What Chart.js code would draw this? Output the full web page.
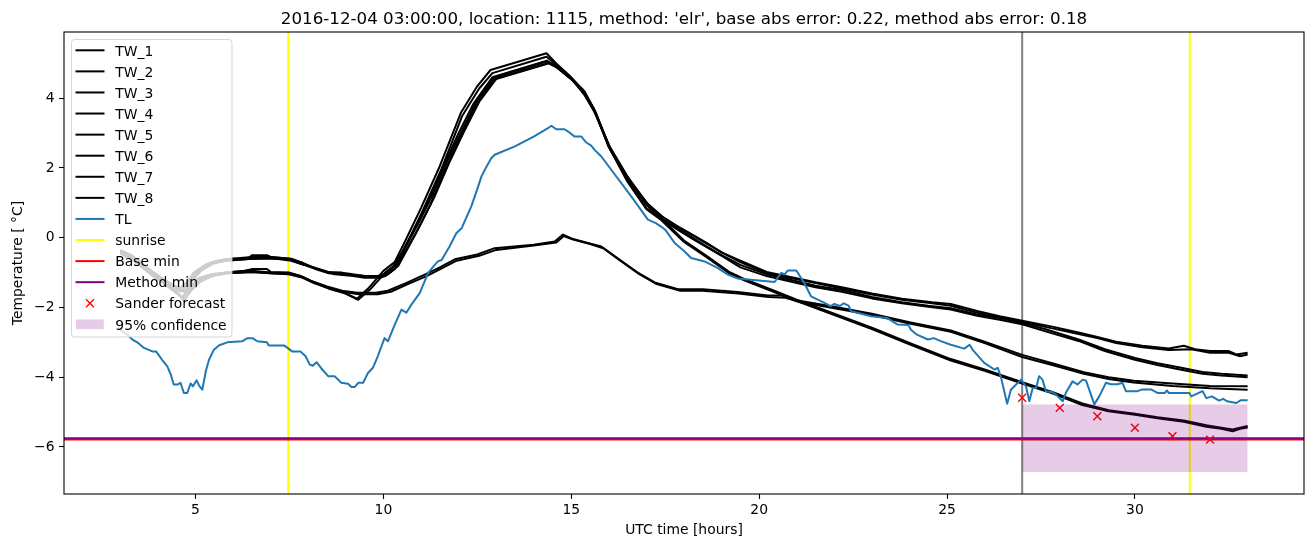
<!DOCTYPE html>
<html><head><meta charset="utf-8">
<script src="https://cdn.jsdelivr.net/npm/chart.js@4.4.1/dist/chart.umd.min.js"></script>
<style>html,body{margin:0;padding:0;background:#fff;overflow:hidden}</style>
</head><body>
<canvas id="c" width="1313" height="547" style="width:1313px;height:547px;display:block"></canvas>
<script>
// ---------- data ----------
const titleText = "2016-12-04 03:00:00, location: 1115, method: 'elr', base abs error: 0.22, method abs error: 0.18";
const xLabel = "UTC time [hours]";
const yLabel = "Temperature [ \u00B0C]";
const xTicks = [5, 10, 15, 20, 25, 30];
const yTicks = [-6, -4, -2, 0, 2, 4];
const xMin = 1.5, xMax = 34.5, yMin = -7.35, yMax = 5.9;

const tw1 = [[3.0,-0.35],[3.3,-0.5],[3.7,-0.85],[4.1,-1.15],[4.4,-1.35],[4.6,-1.45],[4.75,-1.3],[4.95,-1.0],[5.3,-0.75],[5.6,-0.65],[5.9,-0.6],[6.4,-0.6],[6.5,-0.5],[6.9,-0.5],[7.0,-0.55],[7.55,-0.6],[7.8,-0.7],[8.0,-0.8],[8.3,-0.9],[8.6,-1.0],[8.9,-1.0],[9.0,-1.05],[9.5,-1.1],[9.85,-1.1],[10.0,-1.05],[10.25,-0.85],[10.5,-0.4],[10.8,0.2],[11.2,1.05],[11.6,2.05],[12.0,3.0],[12.4,3.85],[12.9,4.6],[14.35,5.08],[14.55,4.95],[15.0,4.55],[15.3,4.2],[15.6,3.65],[16.0,2.65],[16.5,1.75],[17.0,1.0],[17.4,0.62],[17.8,0.35],[18.2,0.1],[18.6,-0.15],[19.0,-0.42],[19.5,-0.66],[20.2,-0.98],[20.8,-1.12],[21.5,-1.28],[22.2,-1.42],[23.0,-1.6],[23.8,-1.75],[24.6,-1.85],[25.1,-1.9],[25.8,-2.1],[26.4,-2.25],[27.0,-2.38],[27.8,-2.55],[28.5,-2.72],[29.0,-2.85],[29.5,-2.98],[30.2,-3.1],[30.9,-3.18],[31.3,-3.1],[31.6,-3.2],[32.0,-3.25],[32.5,-3.25],[32.7,-3.35],[33.0,-3.3]];
const tw2 = [[3.0,-0.4],[3.3,-0.55],[3.7,-0.9],[4.1,-1.2],[4.4,-1.4],[4.6,-1.55],[4.8,-1.35],[5.0,-1.05],[5.3,-0.8],[5.6,-0.7],[5.9,-0.65],[6.5,-0.6],[7.0,-0.6],[7.5,-0.62],[7.8,-0.75],[8.1,-0.85],[8.4,-0.95],[8.7,-1.05],[9.2,-1.1],[9.5,-1.15],[9.9,-1.15],[10.05,-1.1],[10.3,-0.9],[10.55,-0.45],[10.85,0.1],[11.25,0.95],[11.65,1.95],[12.05,2.9],[12.45,3.8],[12.95,4.55],[14.4,5.01],[14.6,4.9],[15.05,4.5],[15.35,4.1],[15.65,3.55],[16.05,2.55],[16.55,1.65],[17.05,0.95],[17.45,0.58],[17.85,0.3],[18.25,0.05],[18.65,-0.2],[19.05,-0.45],[19.5,-0.7],[20.2,-1.02],[20.8,-1.15],[21.5,-1.3],[22.2,-1.46],[23.0,-1.63],[23.8,-1.78],[24.6,-1.88],[25.1,-1.95],[25.8,-2.15],[26.4,-2.28],[27.0,-2.42],[27.8,-2.6],[28.5,-2.76],[29.0,-2.88],[29.5,-3.02],[30.2,-3.14],[30.9,-3.22],[31.5,-3.2],[32.0,-3.3],[32.5,-3.3],[32.8,-3.4],[33.0,-3.35]];
const tw3 = [[3.0,-0.38],[3.35,-0.55],[3.75,-0.9],[4.15,-1.2],[4.45,-1.4],[4.65,-1.5],[4.85,-1.2],[5.1,-0.9],[5.4,-0.72],[5.8,-0.62],[6.5,-0.55],[7.0,-0.55],[7.5,-0.6],[7.85,-0.72],[8.2,-0.88],[8.5,-0.98],[9.0,-1.02],[9.5,-1.1],[9.9,-1.1],[10.1,-1.0],[10.35,-0.75],[10.6,-0.25],[10.9,0.35],[11.3,1.2],[11.7,2.2],[12.1,3.1],[12.5,3.95],[12.95,4.6],[14.35,5.05],[14.6,4.92],[15.0,4.55],[15.3,4.25],[15.6,3.7],[16.0,2.6],[16.5,1.7],[17.0,0.95],[17.4,0.55],[17.8,0.28],[18.2,0.02],[18.6,-0.25],[19.0,-0.5],[19.5,-0.78],[20.2,-1.05],[20.8,-1.2],[21.5,-1.38],[22.2,-1.5],[23.0,-1.7],[23.8,-1.85],[24.5,-1.95],[25.1,-2.02],[25.8,-2.2],[26.4,-2.3],[27.0,-2.45],[27.6,-2.62],[28.5,-2.92],[29.2,-3.2],[30.0,-3.45],[30.6,-3.6],[31.2,-3.72],[31.8,-3.85],[32.3,-3.9],[33.0,-3.95]];
const tw4 = [[3.0,-0.42],[3.4,-0.62],[3.8,-0.95],[4.2,-1.25],[4.5,-1.45],[4.7,-1.55],[4.9,-1.25],[5.15,-0.95],[5.45,-0.75],[5.85,-0.65],[6.5,-0.6],[7.0,-0.58],[7.5,-0.65],[7.9,-0.78],[8.25,-0.92],[8.55,-1.02],[9.0,-1.05],[9.5,-1.12],[9.95,-1.12],[10.15,-1.02],[10.4,-0.8],[10.65,-0.3],[10.95,0.3],[11.35,1.15],[11.75,2.15],[12.15,3.05],[12.55,3.9],[13.0,4.55],[14.4,5.0],[14.62,4.88],[15.05,4.5],[15.35,4.2],[15.65,3.6],[16.05,2.5],[16.55,1.6],[17.05,0.9],[17.45,0.5],[17.85,0.22],[18.25,-0.05],[18.65,-0.3],[19.05,-0.55],[19.5,-0.85],[20.2,-1.1],[20.8,-1.25],[21.5,-1.42],[22.2,-1.55],[23.0,-1.74],[23.8,-1.88],[24.5,-1.98],[25.1,-2.06],[25.8,-2.24],[26.4,-2.35],[27.0,-2.48],[27.6,-2.68],[28.5,-2.96],[29.2,-3.25],[30.0,-3.5],[30.6,-3.65],[31.2,-3.78],[31.8,-3.9],[32.3,-3.95],[33.0,-4.0]];
const tw5 = [[3.0,-0.4],[3.4,-0.65],[3.8,-1.0],[4.2,-1.3],[4.45,-1.5],[4.65,-1.75],[4.85,-1.45],[5.1,-1.2],[5.4,-1.08],[5.8,-1.0],[6.3,-0.95],[6.5,-0.9],[6.9,-0.9],[7.0,-0.98],[7.5,-1.0],[7.8,-1.1],[8.1,-1.25],[8.5,-1.4],[8.9,-1.52],[9.3,-1.58],[9.8,-1.58],[10.12,-1.52],[10.6,-1.3],[11.1,-1.06],[11.5,-0.85],[11.9,-0.62],[12.5,-0.48],[12.96,-0.3],[14.0,-0.2],[14.56,-0.11],[14.78,0.09],[15.0,-0.02],[15.44,-0.15],[15.8,-0.25],[16.24,-0.6],[16.77,-1.0],[17.22,-1.28],[17.84,-1.48],[18.5,-1.48],[19.43,-1.56],[20.23,-1.66],[20.6,-1.66],[21.03,-1.8],[22.0,-1.98],[23.0,-2.18],[24.0,-2.42],[25.1,-2.66],[26.0,-2.98],[27.0,-3.36],[27.8,-3.6],[28.64,-3.86],[29.3,-4.0],[29.97,-4.1],[31.0,-4.18],[32.0,-4.25],[33.0,-4.26]];
const tw6 = [[3.0,-0.45],[3.4,-0.7],[3.8,-1.05],[4.2,-1.35],[4.5,-1.55],[4.7,-1.8],[4.9,-1.5],[5.15,-1.25],[5.45,-1.1],[5.85,-1.02],[6.5,-0.98],[7.0,-1.02],[7.5,-1.05],[7.85,-1.15],[8.15,-1.3],[8.55,-1.45],[8.95,-1.56],[9.35,-1.62],[9.85,-1.62],[10.2,-1.55],[10.65,-1.33],[11.15,-1.1],[11.55,-0.88],[11.95,-0.66],[12.55,-0.52],[13.0,-0.35],[14.0,-0.22],[14.6,-0.14],[14.8,0.05],[15.05,-0.05],[15.5,-0.18],[15.85,-0.3],[16.3,-0.65],[16.8,-1.04],[17.25,-1.32],[17.9,-1.52],[18.5,-1.52],[19.45,-1.6],[20.25,-1.7],[20.7,-1.72],[21.1,-1.85],[22.0,-2.02],[23.0,-2.22],[24.0,-2.46],[25.1,-2.7],[26.0,-3.02],[27.0,-3.42],[27.8,-3.65],[28.64,-3.9],[29.3,-4.05],[29.97,-4.15],[31.0,-4.25],[32.0,-4.32],[33.0,-4.36]];
const tw7 = [[3.0,-0.4],[3.35,-0.62],[3.75,-0.98],[4.15,-1.3],[4.45,-1.55],[4.65,-1.7],[4.85,-1.4],[5.1,-1.15],[5.4,-1.05],[5.8,-1.0],[6.5,-0.95],[7.0,-1.0],[7.5,-1.02],[7.85,-1.12],[8.15,-1.28],[8.55,-1.45],[8.95,-1.58],[9.3,-1.75],[9.6,-1.45],[10.0,-0.95],[10.3,-0.7],[10.6,-0.05],[11.0,0.85],[11.5,2.05],[12.07,3.6],[12.5,4.35],[12.85,4.81],[14.34,5.29],[14.6,5.0],[15.0,4.6],[15.3,4.25],[15.6,3.7],[16.0,2.62],[16.5,1.62],[17.0,0.85],[17.4,0.55],[18.0,-0.08],[18.6,-0.52],[19.2,-0.98],[19.6,-1.18],[20.4,-1.52],[21.0,-1.78],[22.0,-2.18],[23.0,-2.58],[24.0,-3.02],[25.1,-3.48],[26.0,-3.78],[27.0,-4.14],[27.8,-4.42],[28.6,-4.75],[29.3,-4.95],[30.0,-5.05],[30.6,-5.15],[31.3,-5.24],[31.9,-5.38],[32.3,-5.45],[32.6,-5.5],[32.8,-5.45],[33.0,-5.4]];
const tw8 = [[3.0,-0.44],[3.4,-0.68],[3.8,-1.02],[4.2,-1.35],[4.5,-1.6],[4.7,-1.78],[4.9,-1.45],[5.15,-1.2],[5.45,-1.08],[5.85,-1.02],[6.5,-0.98],[7.0,-1.02],[7.5,-1.05],[7.9,-1.15],[8.2,-1.3],[8.6,-1.48],[9.0,-1.6],[9.33,-1.78],[9.65,-1.48],[10.05,-1.0],[10.35,-0.75],[10.65,-0.12],[11.05,0.78],[11.55,1.98],[12.1,3.5],[12.55,4.28],[12.9,4.72],[14.34,5.19],[14.62,4.95],[15.0,4.58],[15.3,4.22],[15.6,3.68],[16.0,2.6],[16.5,1.6],[17.0,0.82],[17.4,0.5],[18.0,-0.12],[18.6,-0.56],[19.2,-1.02],[19.6,-1.22],[20.4,-1.56],[21.0,-1.82],[22.0,-2.22],[23.0,-2.62],[24.0,-3.06],[25.1,-3.52],[26.0,-3.82],[27.0,-4.18],[27.8,-4.46],[28.6,-4.8],[29.3,-4.98],[30.0,-5.08],[30.6,-5.18],[31.3,-5.28],[31.9,-5.42],[32.3,-5.48],[32.6,-5.55],[32.8,-5.48],[33.0,-5.44]];
const tl = [[3.0,-2.64],[3.15,-2.75],[3.32,-2.92],[3.45,-3.0],[3.63,-3.16],[3.85,-3.26],[3.95,-3.26],[4.11,-3.5],[4.25,-3.69],[4.35,-3.95],[4.42,-4.21],[4.52,-4.21],[4.6,-4.16],[4.69,-4.45],[4.78,-4.45],[4.87,-4.18],[4.93,-4.26],[5.03,-4.09],[5.1,-4.25],[5.18,-4.36],[5.28,-3.8],[5.36,-3.5],[5.49,-3.21],[5.62,-3.09],[5.84,-3.0],[6.24,-2.97],[6.38,-2.88],[6.52,-2.88],[6.64,-2.97],[6.9,-3.0],[6.95,-3.09],[7.35,-3.09],[7.45,-3.16],[7.57,-3.26],[7.79,-3.26],[7.93,-3.4],[8.04,-3.64],[8.12,-3.67],[8.22,-3.57],[8.35,-3.75],[8.53,-3.97],[8.7,-3.97],[8.88,-4.16],[9.06,-4.19],[9.15,-4.28],[9.24,-4.28],[9.33,-4.16],[9.46,-4.16],[9.59,-3.88],[9.72,-3.73],[9.85,-3.4],[10.03,-2.88],[10.12,-2.97],[10.3,-2.5],[10.48,-2.06],[10.61,-2.15],[10.75,-1.91],[10.97,-1.58],[11.19,-1.01],[11.35,-0.8],[11.45,-0.68],[11.55,-0.64],[11.76,-0.25],[11.94,0.13],[12.08,0.27],[12.34,0.9],[12.5,1.4],[12.61,1.76],[12.75,2.05],[12.87,2.28],[12.96,2.38],[13.5,2.62],[14.0,2.9],[14.38,3.14],[14.47,3.21],[14.6,3.11],[14.82,3.11],[14.95,3.02],[15.09,2.9],[15.27,2.9],[15.4,2.73],[15.53,2.64],[15.62,2.52],[15.8,2.33],[16.6,1.18],[17.04,0.52],[17.25,0.42],[17.39,0.32],[17.5,0.23],[17.75,-0.15],[18.01,-0.39],[18.19,-0.58],[18.55,-0.68],[18.9,-0.87],[19.17,-1.06],[19.43,-1.17],[20.41,-1.27],[20.59,-1.01],[20.68,-1.05],[20.76,-0.94],[20.99,-0.94],[21.2,-1.3],[21.38,-1.68],[21.74,-1.87],[21.9,-1.96],[22.0,-1.9],[22.15,-1.96],[22.25,-1.88],[22.38,-1.95],[22.45,-2.11],[22.98,-2.25],[23.4,-2.3],[23.69,-2.49],[23.97,-2.5],[24.04,-2.64],[24.2,-2.78],[24.49,-2.92],[24.65,-2.88],[24.8,-2.95],[25.1,-3.07],[25.46,-3.18],[25.6,-3.07],[25.7,-3.24],[25.99,-3.59],[26.26,-3.78],[26.35,-3.73],[26.44,-4.02],[26.6,-4.76],[26.7,-4.36],[26.97,-4.07],[27.1,-4.26],[27.19,-4.69],[27.28,-4.31],[27.37,-4.31],[27.45,-3.97],[27.54,-4.07],[27.63,-4.4],[27.8,-4.43],[27.9,-4.5],[28.08,-4.69],[28.17,-4.43],[28.34,-4.12],[28.47,-4.21],[28.61,-4.07],[28.7,-4.1],[28.92,-4.78],[29.05,-4.55],[29.23,-4.16],[29.36,-4.2],[29.54,-4.2],[29.67,-4.16],[29.76,-4.4],[30.07,-4.4],[30.2,-4.35],[30.43,-4.35],[30.6,-4.45],[30.8,-4.45],[30.85,-4.38],[30.9,-4.45],[31.45,-4.45],[31.5,-4.55],[31.8,-4.4],[31.9,-4.6],[32.05,-4.55],[32.24,-4.67],[32.35,-4.62],[32.45,-4.69],[32.7,-4.74],[32.82,-4.66],[33.0,-4.66]];
const sunriseTimes = [7.47, 31.46];
const nowTime = 27.0;
const baseMin = -5.79;
const methodMin = -5.75;
const sanderX = [27, 28, 29, 30, 31, 32];
const sanderY = [-4.59, -4.88, -5.12, -5.45, -5.69, -5.79];
const confX = [27, 33];
const confHigh = -4.78;
const confLow = -6.72;

// ---------- chart ----------
const pts = a => a.map(p => ({x: p[0], y: p[1]}));
const twList = [tw1, tw2, tw3, tw4, tw5, tw6, tw7, tw8];
const datasets = [];
twList.forEach((d, i) => datasets.push({label: 'TW_' + (i + 1), data: pts(d), borderColor: '#000000', borderWidth: 2, pointRadius: 0, order: 60, legendKind: 'line'}));
datasets.push({label: 'TL', data: pts(tl), borderColor: '#1f77b4', borderWidth: 2, pointRadius: 0, order: 50, legendKind: 'line'});
sunriseTimes.forEach((t, i) => datasets.push({label: 'sunrise', data: [{x: t, y: yMin}, {x: t, y: yMax}], borderColor: '#ffff00', borderWidth: 2, pointRadius: 0, order: 90, legendKind: i === 0 ? 'line' : null}));
datasets.push({label: 'Base min', data: [{x: xMin, y: baseMin}, {x: xMax, y: baseMin}], borderColor: '#ff0000', borderWidth: 2, pointRadius: 0, order: 80, legendKind: 'line'});
datasets.push({label: 'Method min', data: [{x: xMin, y: methodMin}, {x: xMax, y: methodMin}], borderColor: '#800080', borderWidth: 2, pointRadius: 0, order: 70, legendKind: 'line'});
datasets.push({label: 'now', data: [{x: nowTime, y: yMin}, {x: nowTime, y: yMax}], borderColor: '#808080', borderWidth: 2, pointRadius: 0, order: 100, legendKind: null});
datasets.push({label: 'Sander forecast', data: sanderX.map((x, i) => ({x, y: sanderY[i]})), showLine: false, pointStyle: 'crossRot', pointRadius: 5.6, pointBorderWidth: 1.4, pointBorderColor: '#ff0000', pointBackgroundColor: '#ff0000', borderColor: '#ff0000', order: 40, legendKind: 'marker'});
datasets.push({label: '95% confidence', data: confX.map(x => ({x, y: confHigh})), borderWidth: 0, borderColor: 'rgba(0,0,0,0)', backgroundColor: 'rgba(128,0,128,0.2)', pointRadius: 0, fill: {value: confLow}, order: 30, legendKind: 'patch'});

const FONT = '"DejaVu Sans", sans-serif';
const fmt = v => (v < 0 ? '\u2212' + Math.abs(v) : String(v));

const overlay = {
  id: 'overlay',
  beforeDraw(chart) {
    const ctx = chart.ctx;
    ctx.save(); ctx.fillStyle = '#ffffff'; ctx.fillRect(0, 0, chart.width, chart.height); ctx.restore();
  },
  afterDraw(chart) {
    const ctx = chart.ctx, a = chart.chartArea;
    ctx.save();
    // spines
    ctx.strokeStyle = '#000'; ctx.lineWidth = 1.1;
    ctx.strokeRect(a.left, a.top, a.right - a.left, a.bottom - a.top);
    // title & labels
    ctx.fillStyle = '#000';
    ctx.textAlign = 'center'; ctx.textBaseline = 'alphabetic';
    ctx.font = '16.7px ' + FONT;
    ctx.fillText(titleText, (a.left + a.right) / 2, 24);
    ctx.font = '13.9px ' + FONT;
    ctx.fillText(xLabel, (a.left + a.right) / 2, 534);
    ctx.save();
    ctx.translate(21.5, (a.top + a.bottom) / 2);
    ctx.rotate(-Math.PI / 2);
    ctx.fillText(yLabel, 0, 0);
    ctx.restore();
    // legend
    const items = chart.data.datasets.filter(d => d.legendKind);
    const lx = 71.5, ly = 39.5, lw = 160.5, lh = 297.5, r = 3;
    ctx.beginPath();
    ctx.moveTo(lx + r, ly); ctx.lineTo(lx + lw - r, ly); ctx.arcTo(lx + lw, ly, lx + lw, ly + r, r);
    ctx.lineTo(lx + lw, ly + lh - r); ctx.arcTo(lx + lw, ly + lh, lx + lw - r, ly + lh, r);
    ctx.lineTo(lx + r, ly + lh); ctx.arcTo(lx, ly + lh, lx, ly + lh - r, r);
    ctx.lineTo(lx, ly + r); ctx.arcTo(lx, ly, lx + r, ly, r); ctx.closePath();
    ctx.fillStyle = 'rgba(255,255,255,0.8)'; ctx.fill();
    ctx.strokeStyle = 'rgba(204,204,204,0.8)'; ctx.lineWidth = 1; ctx.stroke();
    ctx.textAlign = 'left';
    items.forEach((d, i) => {
      const cy = 50.3 + i * 21.08;
      if (d.legendKind === 'line') {
        ctx.strokeStyle = d.borderColor; ctx.lineWidth = 2;
        ctx.beginPath(); ctx.moveTo(75.5, cy); ctx.lineTo(104.5, cy); ctx.stroke();
      } else if (d.legendKind === 'marker') {
        ctx.strokeStyle = d.pointBorderColor; ctx.lineWidth = 1.4;
        const s = 4;
        ctx.beginPath(); ctx.moveTo(90 - s, cy - s); ctx.lineTo(90 + s, cy + s);
        ctx.moveTo(90 - s, cy + s); ctx.lineTo(90 + s, cy - s); ctx.stroke();
      } else if (d.legendKind === 'patch') {
        ctx.fillStyle = d.backgroundColor;
        ctx.fillRect(76, cy - 4.85, 27.8, 9.7);
      }
      ctx.fillStyle = '#000';
      ctx.font = '13.9px ' + FONT;
      ctx.fillText(d.label, 115.3, cy + 5.2);
    });
    ctx.restore();
  }
};

Chart.defaults.font.family = FONT;
Chart.defaults.color = '#000';

new Chart(document.getElementById('c'), {
  type: 'line',
  data: {datasets},
  plugins: [overlay],
  options: {
    responsive: false,
    devicePixelRatio: 1,
    animation: false,
    layout: {padding: {left: 0, right: 9, top: 32, bottom: 0}},
    elements: {line: {tension: 0, borderJoinStyle: 'round', borderCapStyle: 'butt'}},
    plugins: {legend: {display: false}, title: {display: false}, tooltip: {enabled: false}},
    scales: {
      x: {
        type: 'linear', min: xMin, max: xMax,
        afterFit(s) { s.height = 53; },
        afterBuildTicks(s) { s.ticks = xTicks.map(v => ({value: v})); },
        grid: {display: true, drawOnChartArea: false, drawTicks: true, tickLength: 5, tickWidth: 1.1, tickColor: '#000'},
        border: {display: false},
        ticks: {padding: 3.5, font: {size: 13.9}, color: '#000', maxRotation: 0, autoSkip: false, callback: v => fmt(v)}
      },
      y: {
        type: 'linear', min: yMin, max: yMax,
        afterFit(s) { s.width = 64; },
        afterBuildTicks(s) { s.ticks = yTicks.map(v => ({value: v})); },
        grid: {display: true, drawOnChartArea: false, drawTicks: true, tickLength: 5, tickWidth: 1.1, tickColor: '#000'},
        border: {display: false},
        ticks: {padding: 4.5, font: {size: 13.9}, color: '#000', autoSkip: false, callback: v => fmt(v)}
      }
    }
  }
});
</script>
</body></html>
